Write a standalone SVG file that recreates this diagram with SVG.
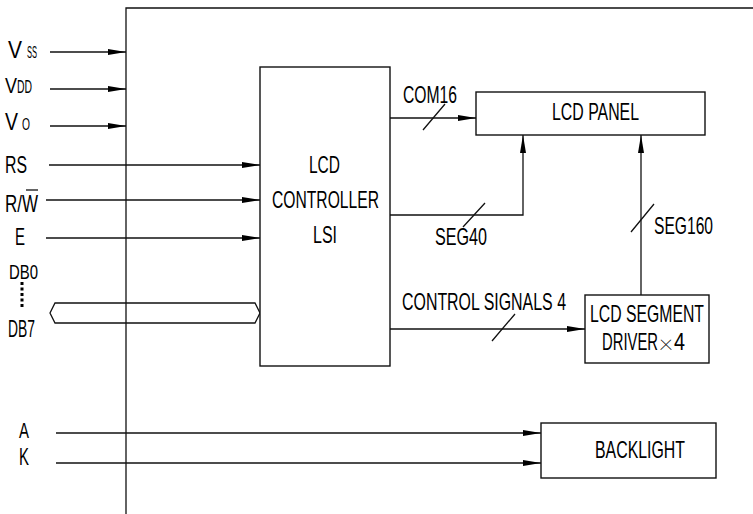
<svg xmlns="http://www.w3.org/2000/svg" width="753" height="514" viewBox="0 0 753 514">
<defs>
<style>
.t{font-family:"Liberation Sans",Arial,sans-serif;font-size:24px;fill:#000}
.thin{font-family:"Roboto","Lato","Open Sans",sans-serif;font-weight:100}
.ln{fill:none;stroke:#111;stroke-width:1.3}
.ar{fill:none;stroke:#111;stroke-width:1.3;marker-end:url(#ah)}
.bx{fill:#fff;stroke:#111;stroke-width:1.4}
</style>
<marker id="ah" markerUnits="userSpaceOnUse" markerWidth="18" markerHeight="7" refX="18" refY="3.5" orient="auto">
<path d="M0,0.5 L18,3.5 L0,6.5 z" fill="#000"/>
</marker>
</defs>
<rect width="753" height="514" fill="#fff"/>
<g id="frame">
<path class="ln" d="M126,514 V8 H753"/>
</g>
<g id="connectors">
<path class="ar" d="M50,52 H126"/>
<path class="ar" d="M50,89 H126"/>
<path class="ar" d="M50,126 H126"/>
<path class="ar" d="M49,165 H260"/>
<path class="ar" d="M46,200 H260"/>
<path class="ar" d="M46,238 H260"/>
<path class="ar" d="M390,118 H476"/>
<path class="ar" d="M390,215 H523 V135"/>
<path class="ar" d="M641,295 V135"/>
<path class="ar" d="M390,329 H585"/>
<path class="ar" d="M56,433 H541"/>
<path class="ar" d="M56,463 H541"/>
<path class="ln" d="M423,130 L445,104 M463,227 L485,203 M631,232 L654,204 M492,341 L515,314"/>
<polygon class="ln" points="50,313 55,303 255,303 260,313 255,323 55,323"/>
<path d="M22,282 V308" stroke="#000" stroke-width="3" stroke-dasharray="3 2.5" fill="none"/>
</g>
<g id="inputs">
<text class="t" x="8" y="58" textLength="14" lengthAdjust="spacingAndGlyphs">V</text>
<text class="t" x="27" y="58" style="font-size:16px" textLength="10" lengthAdjust="spacingAndGlyphs">SS</text>
<text class="t" x="5" y="93" style="font-size:22px" textLength="12" lengthAdjust="spacingAndGlyphs">V</text>
<text class="t" x="17" y="93" style="font-size:18px" textLength="15" lengthAdjust="spacingAndGlyphs">DD</text>
<text class="t" x="5" y="130" textLength="13" lengthAdjust="spacingAndGlyphs">V</text>
<text class="t" x="22" y="130" style="font-size:17px" textLength="8" lengthAdjust="spacingAndGlyphs">O</text>
<text class="t" x="5" y="173" textLength="22" lengthAdjust="spacingAndGlyphs">RS</text>
<text class="t" x="5" y="212" textLength="33" lengthAdjust="spacingAndGlyphs">R/W</text>
<path class="ln" d="M26,190 H38" stroke-width="1.6"/>
<text class="t" x="15" y="245" textLength="10" lengthAdjust="spacingAndGlyphs">E</text>
<text class="t" x="9" y="279" style="font-size:21px" textLength="29" lengthAdjust="spacingAndGlyphs">DB0</text>
<text class="t" x="8" y="337" textLength="27" lengthAdjust="spacingAndGlyphs">DB7</text>
<text class="t" x="19" y="438" style="font-size:22px" textLength="10" lengthAdjust="spacingAndGlyphs">A</text>
<text class="t" x="19" y="465" textLength="10" lengthAdjust="spacingAndGlyphs">K</text>
</g>
<g id="controller">
<rect class="bx" x="260" y="67" width="130" height="299"/>
<text class="t" x="309" y="173" textLength="31" lengthAdjust="spacingAndGlyphs">LCD</text>
<text class="t" x="272" y="208" textLength="107" lengthAdjust="spacingAndGlyphs">CONTROLLER</text>
<text class="t" x="313" y="243" textLength="24" lengthAdjust="spacingAndGlyphs">LSI</text>
</g>
<g id="lcd-panel">
<rect class="bx" x="476" y="92" width="229" height="43"/>
<text class="t" x="552" y="120" textLength="87" lengthAdjust="spacingAndGlyphs">LCD PANEL</text>
</g>
<g id="segment-driver">
<rect class="bx" x="585" y="295" width="124" height="68"/>
<text class="t" x="590" y="322" textLength="114" lengthAdjust="spacingAndGlyphs">LCD SEGMENT</text>
<text class="t" x="602" y="350"><tspan textLength="56" lengthAdjust="spacingAndGlyphs">DRIVER</tspan><tspan x="659" class="thin" style="font-size:26px" textLength="14" lengthAdjust="spacingAndGlyphs">×</tspan><tspan x="674" textLength="11" lengthAdjust="spacingAndGlyphs">4</tspan></text>
</g>
<g id="backlight">
<rect class="bx" x="541" y="423" width="175" height="55"/>
<text class="t" x="595" y="458" textLength="90" lengthAdjust="spacingAndGlyphs">BACKLIGHT</text>
</g>
<g id="labels">
<text class="t" x="403" y="103" textLength="54" lengthAdjust="spacingAndGlyphs">COM16</text>
<text class="t" x="435" y="245" textLength="52" lengthAdjust="spacingAndGlyphs">SEG40</text>
<text class="t" x="654" y="234" textLength="59" lengthAdjust="spacingAndGlyphs">SEG160</text>
<text class="t" x="402" y="310" textLength="164" lengthAdjust="spacingAndGlyphs">CONTROL SIGNALS 4</text>
</g>
</svg>
